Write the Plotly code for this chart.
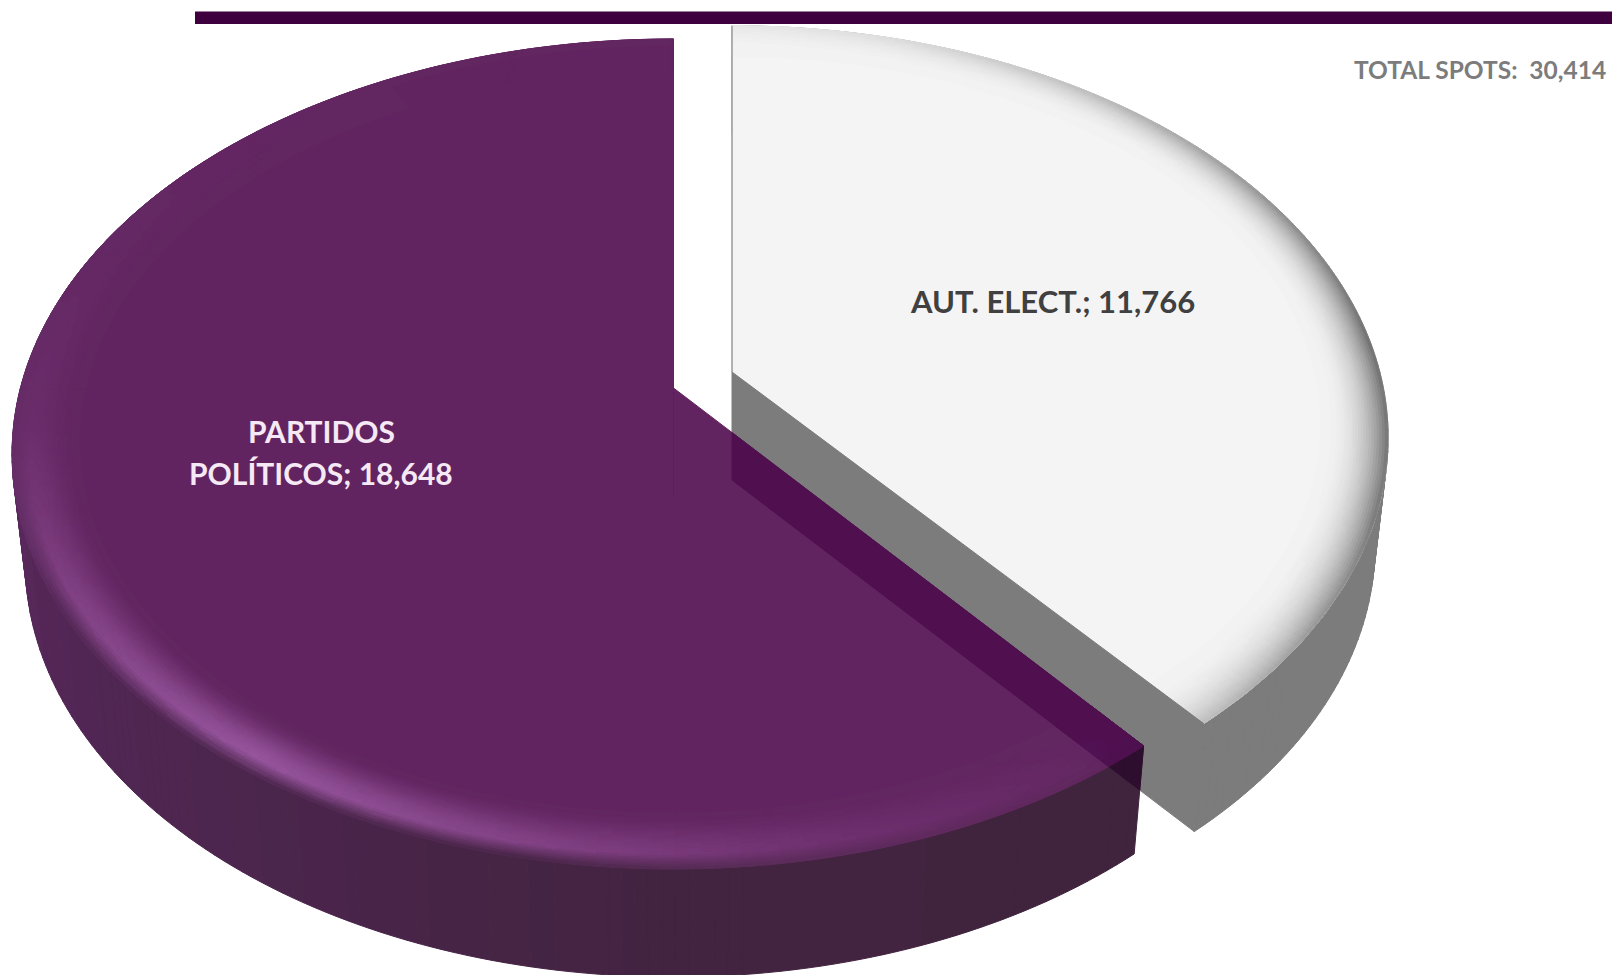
import numpy as np
import plotly.graph_objects as go

categories = ["PARTIDOS POLÍTICOS", "AUT. ELECT."]
values = [18648, 11766]
value_labels = ["18,648", "11,766"]
total_label = "TOTAL SPOTS:\u00a0\u00a030,414"

W, H = 1612, 975
share_angle = 360.0 * values[1] / sum(values)
# the drawn view foreshortens the cut slightly
sweep_w = share_angle + 1.0
sweep_p = share_angle + 1.6

# projection of the tilted disc
PURPLE_C = (673.5, 388.0)
WHITE_C = (732.0, 372.0)
A, B, K = 653.0, 404.5, 0.159
DEPTH, SHRINK = 108.0, 0.98


def top(theta, r, c, scale=1.0):
    t = np.radians(theta)
    u, v = r * np.sin(t), r * np.cos(t)
    d = 1 + K * v
    return (c[0] + scale * A * u / d, c[1] - scale * B * v / d)


def low(theta, r, c, scale=1.0):
    x, y = top(theta, r, c, scale)
    return (c[0] + (x - c[0]) * SHRINK, y + DEPTH)


WS = 0.992


def wtop(t, r):
    return top(t, r, WHITE_C, WS)


def wlow(t, r):
    return low(t, r, WHITE_C, WS)


def ptop(t, r):
    return top(t, r, PURPLE_C)


def plow(t, r):
    return low(t, r, PURPLE_C)


def inter(p1, p2, p3, p4):
    x1, y1, x2, y2 = *p1, *p2
    x3, y3, x4, y4 = *p3, *p4
    den = (x1 - x2) * (y3 - y4) - (y1 - y2) * (x3 - x4)
    a = x1 * y2 - y1 * x2
    b = x3 * y4 - y3 * x4
    return ((a * (x3 - x4) - (x1 - x2) * b) / den, (a * (y3 - y4) - (y1 - y2) * b) / den)


# overlap of the white slice's inner wall, seen through the purple slice
wc_low = wlow(0, 0)
corner_p = ptop(sweep_p, 1)
corner_p_low = plow(sweep_p, 1)
corner_w = wtop(sweep_w, 1)
corner_w_low = wlow(sweep_w, 1)
band = [
    inter(PURPLE_C, corner_p, wc_low, (wc_low[0], 0)),
    corner_p,
    inter(wc_low, corner_w_low, corner_p, corner_p_low),
    wc_low,
]


def clip(poly, window):
    out = list(poly)
    n = len(window)
    for i in range(n):
        a, b = window[i], window[(i + 1) % n]
        side = lambda p: (b[0] - a[0]) * (p[1] - a[1]) - (b[1] - a[1]) * (p[0] - a[0])
        src, out = out, []
        for j, p in enumerate(src):
            q = src[(j + 1) % len(src)]
            sp, sq = side(p), side(q)
            if sp >= 0:
                out.append(p)
            if (sp >= 0) != (sq >= 0):
                f = sp / (sp - sq)
                out.append((p[0] + f * (q[0] - p[0]), p[1] + f * (q[1] - p[1])))
        if not out:
            return []
    return out


layers = []


def new_layer():
    layers.append({})
    return layers[-1]


def key(c):
    return tuple(int(round(float(x) / 2) * 2) for x in c)


def put(layer, poly, color):
    layer.setdefault(key(color), []).append(poly)


def mix(a, b, t):
    return tuple(x + (y - x) * t for x, y in zip(a, b))


# shading tables
P_BASE = (98, 37, 96)
P_HI = (150, 84, 156)
theta_p = [sweep_p, 165, 185, 215, 240, 265, 290, 330, 360]
hi_amt = [0.0, 0.2, 0.5, 1.0, 0.6, 0.16, 0.06, 0.0, 0.0]
theta_w = [sweep_p, 180, 225, 270, 300, 360]
wall_r = [64, 66, 78, 92, 95, 95]
wall_g = [35, 35, 38, 40, 40, 40]
wall_b = [62, 64, 80, 96, 100, 100]
W_BASE = 243
theta_e = [0, 15, 35, 60, 85, 110, 125, sweep_w]
edge_g = [232, 222, 195, 150, 110, 120, 150, 190]
radii = np.linspace(0.90, 1.0, 26)


def wall_col(t):
    return (np.interp(t, theta_w, wall_r), np.interp(t, theta_w, wall_g), np.interp(t, theta_w, wall_b))


def purple_shade(t, r):
    h = np.interp(t, theta_p, hi_amt)
    s = np.clip((r - 0.90) / 0.075, 0, 1)
    p = s * s * (3 - 2 * s)
    c = mix(P_BASE, P_HI, p * h)
    if r > 0.975:
        w = np.clip(h * 1.5 + 0.05, 0, 0.95)
        c = mix(c, wall_col(t), ((r - 0.975) / 0.025) * w)
    return c


def white_shade(t, r):
    g = np.interp(t, theta_e, edge_g)
    p = np.clip((r - 0.90) / 0.10, 0, 1) ** 2.4
    v = W_BASE + (g - W_BASE) * p
    return (v, v, v)


# white slice
lay = new_layer()
th = np.arange(0, sweep_w, 1.0)
th = np.append(th, sweep_w)
for a, b in zip(th[:-1], th[1:]):
    put(lay, [wtop(a, 1), wtop(b, 1), wlow(b, 1), wlow(a, 1)], (125, 125, 125))
lay = new_layer()
put(lay, [WHITE_C] + [wtop(t, 1) for t in th], (W_BASE,) * 3)
lay = new_layer()
for r0, r1 in zip(radii[:-1], radii[1:]):
    for a, b in zip(th[:-1], th[1:]):
        m = (a + b) / 2
        put(lay, [wtop(a, r0), wtop(b, r0), wtop(b, r1), wtop(a, r1)], white_shade(m, (r0 + r1) / 2))
lay = new_layer()
put(lay, [WHITE_C, corner_w, corner_w_low, wc_low], (125, 125, 125))

# purple slice
tp = np.arange(sweep_p, 360.0, 1.0)
tp = np.append(tp, 360.0)
dark_wall, dark_base, dark_ring = {}, {}, {}
DARK = (19, 21, 16)


def darker(c):
    return tuple(max(x - d, 0) for x, d in zip(c, DARK))


def put_p(layer, dark, poly, color):
    put(layer, poly, color)
    cut = clip(poly, band)
    if len(cut) >= 3:
        put(dark, cut, darker(color))


lay = new_layer()
for a, b in zip(tp[:-1], tp[1:]):
    put_p(lay, dark_wall, [ptop(a, 1), ptop(b, 1), plow(b, 1), plow(a, 1)], wall_col((a + b) / 2))
lay = new_layer()
put_p(lay, dark_base, [PURPLE_C] + [ptop(t, 1) for t in tp], P_BASE)
lay = new_layer()
for r0, r1 in zip(radii[:-1], radii[1:]):
    for a, b in zip(tp[:-1], tp[1:]):
        m = (a + b) / 2
        put_p(lay, dark_ring, [ptop(a, r0), ptop(b, r0), ptop(b, r1), ptop(a, r1)],
              purple_shade(m, (r0 + r1) / 2))
layers.extend([dark_wall, dark_base, dark_ring])

fig = go.Figure()
for layer in layers:
    for col, polys in layer.items():
        xs, ys = [], []
        for poly in polys:
            xs += [p[0] for p in poly] + [poly[0][0], None]
            ys += [p[1] for p in poly] + [poly[0][1], None]
        css = "rgb(%d,%d,%d)" % col
        fig.add_trace(go.Scatter(x=xs, y=ys, mode="lines", fill="toself", fillcolor=css,
                                 line=dict(color=css, width=1), hoverinfo="skip", showlegend=False))

# thin edge lines along the slice sides
fig.add_trace(go.Scatter(x=[WHITE_C[0], wtop(0, 1)[0]], y=[WHITE_C[1], wtop(0, 1)[1]],
                         mode="lines", line=dict(color="#9a9a9a", width=1.5), hoverinfo="skip", showlegend=False))
fig.add_trace(go.Scatter(x=[PURPLE_C[0], plow(0, 0)[0]], y=[PURPLE_C[1], plow(0, 0)[1]],
                         mode="lines", line=dict(color="#5a2058", width=1), hoverinfo="skip", showlegend=False))

FONT = "Lato, Carlito, Calibri, sans-serif"
fig.add_annotation(x=321, y=431, text="PARTIDOS", showarrow=False,
                   font=dict(family=FONT, size=30, color="#f6e9f6", weight=700))
fig.add_annotation(x=321, y=473, text="POLÍTICOS; " + value_labels[0], showarrow=False,
                   font=dict(family=FONT, size=30, color="#f6e9f6", weight=700))
fig.add_annotation(x=1052.5, y=301, text="AUT. ELECT.; " + value_labels[1], showarrow=False,
                   font=dict(family=FONT, size=31, color="#404040", weight=700))
fig.add_annotation(x=1608, y=69, text=total_label, showarrow=False, xanchor="right",
                   font=dict(family=FONT, size=24.5, color="#7c7c7c", weight=700))

fig.add_shape(type="rect", x0=195, x1=W, y0=11.5, y1=24, fillcolor="#3f0040", line_width=0, layer="above")

fig.update_layout(width=W, height=H, margin=dict(l=0, r=0, t=0, b=0), autosize=False,
                  paper_bgcolor="white", plot_bgcolor="white", showlegend=False,
                  xaxis=dict(range=[0, W], visible=False, fixedrange=True),
                  yaxis=dict(range=[H, 0], visible=False, fixedrange=True))
fig.write_html("out.html", config={"displayModeBar": False},
               post_script="document.body.style.margin='0';document.documentElement.style.overflow='hidden';")
